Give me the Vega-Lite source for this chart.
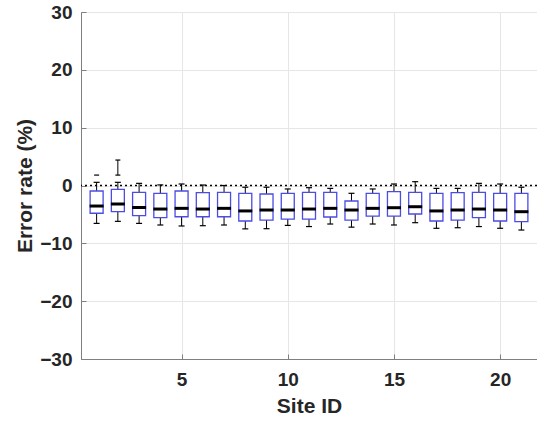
{
  "$schema": "https://vega.github.io/schema/vega-lite/v6.json",
  "width": 456,
  "height": 347,
  "autosize": {"type": "none"},
  "padding": {"left": 81, "top": 12, "right": 0, "bottom": 62},
  "background": "white",
  "config": {
    "view": {"stroke": "#7f7f7f", "strokeWidth": 1},
    "font": "Liberation Sans",
    "axis": {
      "grid": true,
      "gridColor": "#e6e6e6",
      "gridWidth": 1,
      "domainColor": "#7f7f7f",
      "domainWidth": 1,
      "tickColor": "#7f7f7f",
      "tickSize": -5,
      "labelFont": "Liberation Sans",
      "labelFontWeight": "bold",
      "labelFontSize": 19,
      "labelColor": "#262626",
      "titleFont": "Liberation Sans",
      "titleFontWeight": "bold",
      "titleFontSize": 21,
      "titleColor": "#262626"
    }
  },
  "datasets": {
    "boxes": [
      {"site": 1, "lo": -6.55, "q1": -4.8, "med": -3.55, "q3": -0.95, "hi": 0.55},
      {"site": 2, "lo": -6.2, "q1": -4.5, "med": -3.2, "q3": -0.66, "hi": 0.55},
      {"site": 3, "lo": -6.55, "q1": -5.2, "med": -3.8, "q3": -1.2, "hi": 0.37},
      {"site": 4, "lo": -6.83, "q1": -5.57, "med": -4.07, "q3": -1.35, "hi": 0.1},
      {"site": 5, "lo": -7.0, "q1": -5.4, "med": -3.95, "q3": -0.95, "hi": 0.26},
      {"site": 6, "lo": -6.95, "q1": -5.4, "med": -4.07, "q3": -1.24, "hi": 0.08},
      {"site": 7, "lo": -6.83, "q1": -5.4, "med": -3.95, "q3": -1.18, "hi": 0.0},
      {"site": 8, "lo": -7.5, "q1": -6.14, "med": -4.4, "q3": -1.35, "hi": -0.3},
      {"site": 9, "lo": -7.47, "q1": -5.97, "med": -4.24, "q3": -1.47, "hi": -0.3},
      {"site": 10, "lo": -6.9, "q1": -5.8, "med": -4.24, "q3": -1.35, "hi": -0.6},
      {"site": 11, "lo": -7.1, "q1": -5.8, "med": -4.07, "q3": -1.18, "hi": -0.38},
      {"site": 12, "lo": -6.66, "q1": -5.45, "med": -3.95, "q3": -1.18, "hi": -0.5},
      {"site": 13, "lo": -7.2, "q1": -5.97, "med": -4.24, "q3": -2.68, "hi": -1.35},
      {"site": 14, "lo": -6.66, "q1": -5.28, "med": -3.95, "q3": -1.35, "hi": -0.6},
      {"site": 15, "lo": -6.83, "q1": -5.28, "med": -3.84, "q3": -1.07, "hi": 0.26},
      {"site": 16, "lo": -6.43, "q1": -4.93, "med": -3.67, "q3": -1.18, "hi": 0.66},
      {"site": 17, "lo": -7.4, "q1": -6.14, "med": -4.4, "q3": -1.35, "hi": -0.5},
      {"site": 18, "lo": -7.3, "q1": -5.97, "med": -4.24, "q3": -1.24, "hi": -0.5},
      {"site": 19, "lo": -7.1, "q1": -5.57, "med": -4.07, "q3": -1.18, "hi": 0.37},
      {"site": 20, "lo": -7.4, "q1": -6.14, "med": -4.24, "q3": -1.35, "hi": 0.26},
      {"site": 21, "lo": -7.7, "q1": -6.26, "med": -4.53, "q3": -1.35, "hi": -0.3}
    ],
    "outliers": [
      {"site": 1, "value": 1.8},
      {"site": 2, "value": 1.8},
      {"site": 2, "value": 4.4}
    ],
    "segments": [
      {"site": 2, "from": 1.8, "to": 4.4}
    ]
  },
  "layer": [
    {
      "data": {"name": "boxes"},
      "mark": {"type": "rule", "color": "black", "strokeWidth": 1},
      "encoding": {
        "x": {
          "field": "site", "type": "quantitative",
          "scale": {"domain": [0.5, 21.5], "nice": false, "zero": false},
          "axis": {"values": [5, 10, 15, 20], "title": "Site ID", "labelPadding": 16, "titlePadding": 6}
        },
        "y": {
          "field": "lo", "type": "quantitative",
          "scale": {"domain": [-30, 30], "nice": false},
          "axis": {"values": [-30, -20, -10, 0, 10, 20, 30], "title": "Error rate (%)", "labelPadding": 14, "titlePadding": 4}
        },
        "y2": {"field": "hi"}
      }
    },
    {
      "data": {"values": [{}]},
      "mark": {"type": "rule", "color": "black", "strokeWidth": 1.5, "strokeDash": [2, 3]},
      "encoding": {"y": {"datum": 0}}
    },
    {
      "data": {"name": "segments"},
      "mark": {"type": "rule", "color": "black", "strokeWidth": 1},
      "encoding": {
        "x": {"field": "site", "type": "quantitative"},
        "y": {"field": "from", "type": "quantitative"},
        "y2": {"field": "to"}
      }
    },
    {
      "data": {"name": "boxes"},
      "mark": {"type": "bar", "width": 13, "fill": "white", "stroke": "#4b4be6", "strokeWidth": 1.3},
      "encoding": {
        "x": {"field": "site", "type": "quantitative"},
        "y": {"field": "q1", "type": "quantitative"},
        "y2": {"field": "q3"}
      }
    },
    {
      "data": {"name": "boxes"},
      "mark": {"type": "tick", "orient": "horizontal", "color": "black", "size": 14, "thickness": 3, "opacity": 1},
      "encoding": {
        "x": {"field": "site", "type": "quantitative"},
        "y": {"field": "med", "type": "quantitative"}
      }
    },
    {
      "data": {"name": "boxes"},
      "mark": {"type": "tick", "orient": "horizontal", "color": "black", "size": 6, "thickness": 1.2, "opacity": 1},
      "encoding": {
        "x": {"field": "site", "type": "quantitative"},
        "y": {"field": "lo", "type": "quantitative"}
      }
    },
    {
      "data": {"name": "boxes"},
      "mark": {"type": "tick", "orient": "horizontal", "color": "black", "size": 6, "thickness": 1.2, "opacity": 1},
      "encoding": {
        "x": {"field": "site", "type": "quantitative"},
        "y": {"field": "hi", "type": "quantitative"}
      }
    },
    {
      "data": {"name": "outliers"},
      "mark": {"type": "tick", "orient": "horizontal", "color": "black", "size": 5, "thickness": 1.2, "opacity": 1},
      "encoding": {
        "x": {"field": "site", "type": "quantitative"},
        "y": {"field": "value", "type": "quantitative"}
      }
    }
  ]
}
